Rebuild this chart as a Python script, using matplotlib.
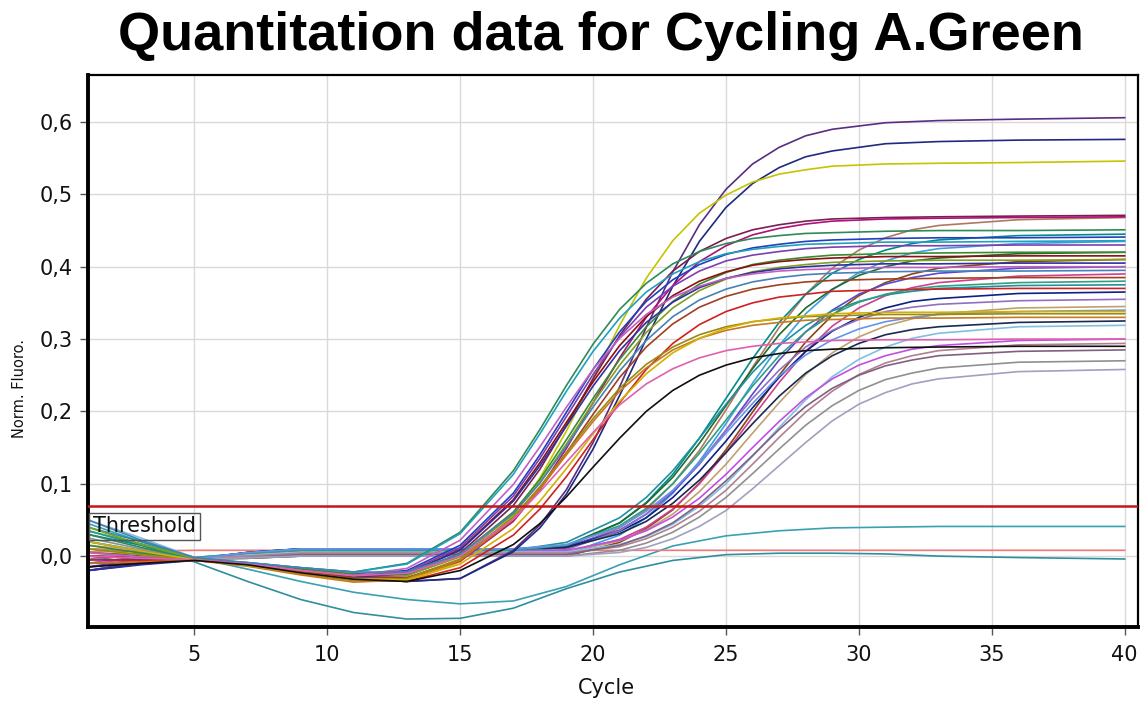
import matplotlib
matplotlib.use("Agg")
import matplotlib.pyplot as plt
from matplotlib.ticker import FuncFormatter, FixedLocator

# Cycle numbers at which each group of runs is listed
EARLY_CYCLES = [1, 3, 5, 7, 9, 11, 13, 15, 17, 18, 19, 20, 21, 22, 23, 24, 25, 26, 27, 28, 29, 31, 33, 36, 40]
LATE_CYCLES = [1, 3, 5, 7, 9, 11, 13, 15, 17, 19, 21, 22, 23, 24, 25, 26, 27, 28, 29, 30, 31, 32, 33, 36, 40]
CONTROL_CYCLES = [1, 3, 5, 7, 9, 11, 13, 15, 17, 19, 21, 23, 25, 27, 29, 31, 33, 36, 40]

# Early-amplifying runs (threshold crossed around cycles 16-19)
EARLY_RUNS = [
    [-0.015, -0.008, -0.005, -0.012, -0.023, -0.032, -0.035, -0.031, 0.008, 0.043, 0.092, 0.157, 0.234, 0.316, 0.393, 0.458, 0.507, 0.542, 0.565, 0.581, 0.590, 0.599, 0.602, 0.604, 0.606],
    [-0.020, -0.011, -0.005, -0.012, -0.023, -0.032, -0.035, -0.031, 0.006, 0.039, 0.086, 0.148, 0.222, 0.300, 0.373, 0.435, 0.482, 0.515, 0.537, 0.552, 0.560, 0.570, 0.573, 0.575, 0.576],
    [0.010, 0.002, -0.005, -0.012, -0.023, -0.032, -0.035, -0.008, 0.056, 0.108, 0.173, 0.246, 0.319, 0.384, 0.436, 0.474, 0.499, 0.517, 0.528, 0.534, 0.539, 0.542, 0.543, 0.544, 0.546],
    [0.000, -0.003, -0.005, -0.011, -0.020, -0.027, -0.027, 0.004, 0.070, 0.120, 0.181, 0.245, 0.305, 0.355, 0.394, 0.421, 0.439, 0.451, 0.458, 0.463, 0.466, 0.468, 0.469, 0.470, 0.471],
    [-0.010, -0.008, -0.005, -0.011, -0.020, -0.027, -0.030, -0.007, 0.048, 0.093, 0.149, 0.212, 0.274, 0.330, 0.374, 0.407, 0.429, 0.444, 0.453, 0.459, 0.463, 0.466, 0.467, 0.468, 0.469],
    [0.030, 0.012, -0.004, -0.009, -0.016, -0.022, -0.010, 0.033, 0.118, 0.175, 0.236, 0.293, 0.341, 0.377, 0.404, 0.421, 0.432, 0.439, 0.443, 0.446, 0.447, 0.449, 0.450, 0.450, 0.451],
    [-0.005, -0.005, -0.005, -0.010, -0.018, -0.025, -0.020, 0.015, 0.087, 0.140, 0.199, 0.258, 0.310, 0.352, 0.382, 0.403, 0.417, 0.426, 0.431, 0.435, 0.437, 0.439, 0.440, 0.440, 0.441],
    [0.020, 0.007, -0.004, -0.009, -0.016, -0.022, -0.011, 0.031, 0.113, 0.169, 0.228, 0.283, 0.329, 0.365, 0.390, 0.407, 0.418, 0.424, 0.428, 0.431, 0.432, 0.434, 0.434, 0.435, 0.436],
    [-0.010, -0.008, -0.005, -0.011, -0.020, -0.027, -0.022, 0.012, 0.083, 0.135, 0.193, 0.251, 0.303, 0.344, 0.373, 0.394, 0.408, 0.416, 0.421, 0.425, 0.427, 0.429, 0.429, 0.430, 0.430],
    [0.015, 0.004, -0.005, -0.010, -0.018, -0.025, -0.025, 0.002, 0.061, 0.106, 0.161, 0.218, 0.272, 0.317, 0.352, 0.376, 0.392, 0.403, 0.409, 0.413, 0.416, 0.418, 0.419, 0.420, 0.420],
    [0.000, -0.003, -0.005, -0.011, -0.021, -0.029, -0.024, 0.009, 0.078, 0.129, 0.185, 0.241, 0.291, 0.331, 0.360, 0.380, 0.393, 0.402, 0.407, 0.410, 0.412, 0.414, 0.414, 0.415, 0.415],
    [0.040, 0.016, -0.003, -0.010, -0.020, -0.027, -0.027, -0.001, 0.058, 0.102, 0.155, 0.212, 0.264, 0.309, 0.343, 0.367, 0.383, 0.393, 0.399, 0.403, 0.406, 0.408, 0.409, 0.409, 0.410],
    [-0.020, -0.012, -0.006, -0.011, -0.021, -0.029, -0.024, 0.008, 0.076, 0.125, 0.180, 0.235, 0.284, 0.323, 0.351, 0.371, 0.384, 0.392, 0.397, 0.400, 0.402, 0.404, 0.404, 0.405, 0.405],
    [0.005, -0.001, -0.005, -0.010, -0.020, -0.027, -0.017, 0.022, 0.099, 0.151, 0.206, 0.258, 0.301, 0.334, 0.358, 0.373, 0.384, 0.390, 0.394, 0.396, 0.397, 0.399, 0.399, 0.400, 0.400],
    [0.050, 0.022, -0.002, -0.009, -0.016, -0.022, -0.022, 0.003, 0.059, 0.101, 0.152, 0.206, 0.256, 0.298, 0.331, 0.354, 0.369, 0.379, 0.385, 0.389, 0.391, 0.393, 0.394, 0.394, 0.395],
    [-0.005, -0.006, -0.006, -0.012, -0.023, -0.032, -0.035, -0.016, 0.029, 0.065, 0.110, 0.161, 0.212, 0.258, 0.294, 0.320, 0.338, 0.350, 0.358, 0.362, 0.366, 0.368, 0.369, 0.370, 0.370],
    [0.000, -0.003, -0.005, -0.012, -0.021, -0.030, -0.030, -0.005, 0.050, 0.092, 0.143, 0.196, 0.247, 0.289, 0.321, 0.344, 0.359, 0.369, 0.375, 0.379, 0.381, 0.383, 0.384, 0.385, 0.385],
    [0.010, 0.002, -0.005, -0.013, -0.025, -0.034, -0.031, -0.004, 0.054, 0.096, 0.143, 0.190, 0.232, 0.265, 0.289, 0.306, 0.317, 0.324, 0.328, 0.331, 0.332, 0.334, 0.334, 0.335, 0.335],
    [-0.010, -0.008, -0.006, -0.014, -0.026, -0.036, -0.033, -0.006, 0.051, 0.093, 0.140, 0.186, 0.228, 0.260, 0.285, 0.301, 0.312, 0.319, 0.323, 0.326, 0.327, 0.329, 0.329, 0.330, 0.330],
    [0.020, 0.007, -0.005, -0.013, -0.023, -0.032, -0.033, -0.011, 0.038, 0.076, 0.121, 0.169, 0.214, 0.252, 0.281, 0.301, 0.315, 0.324, 0.329, 0.332, 0.335, 0.337, 0.337, 0.338, 0.338],
    [0.000, -0.003, -0.005, -0.011, -0.020, -0.027, -0.024, 0.000, 0.051, 0.089, 0.130, 0.171, 0.209, 0.238, 0.259, 0.274, 0.284, 0.290, 0.294, 0.296, 0.298, 0.299, 0.299, 0.300, 0.300],
    [-0.015, -0.010, -0.006, -0.012, -0.023, -0.032, -0.035, -0.020, 0.016, 0.045, 0.082, 0.123, 0.163, 0.200, 0.229, 0.250, 0.264, 0.274, 0.280, 0.284, 0.286, 0.288, 0.289, 0.290, 0.290],
]
EARLY_COLORS = [
    "#5a2d82", "#1f2a80", "#c4c400", "#7a1f4f", "#b0107a", "#2e8b57",
    "#2040c0", "#20a0c0", "#7b3fb0", "#3a8a30", "#8b1010", "#80a020",
    "#3030a0", "#c060c0", "#4682b4", "#d02020", "#a04020", "#9a8a10",
    "#c87820", "#d4b000", "#e060b0", "#101010",
]

# Late-amplifying runs (threshold crossed around cycles 22-25)
LATE_RUNS = [
    [0.000, 0.004, -0.004, 0.004, 0.008, 0.008, 0.008, 0.008, 0.008, 0.011, 0.039, 0.064, 0.100, 0.146, 0.202, 0.261, 0.316, 0.362, 0.398, 0.423, 0.440, 0.451, 0.457, 0.465, 0.468],
    [0.030, 0.015, -0.003, 0.001, 0.005, 0.005, 0.005, 0.005, 0.005, 0.013, 0.046, 0.074, 0.113, 0.163, 0.218, 0.273, 0.323, 0.362, 0.391, 0.410, 0.423, 0.432, 0.437, 0.443, 0.445],
    [0.020, 0.008, -0.004, -0.003, 0.000, 0.000, 0.000, 0.000, 0.000, 0.003, 0.029, 0.053, 0.087, 0.131, 0.183, 0.239, 0.291, 0.335, 0.368, 0.392, 0.408, 0.419, 0.425, 0.432, 0.435],
    [-0.010, -0.002, -0.004, 0.004, 0.008, 0.008, 0.008, 0.008, 0.008, 0.015, 0.046, 0.073, 0.109, 0.156, 0.208, 0.259, 0.306, 0.343, 0.369, 0.388, 0.400, 0.408, 0.412, 0.418, 0.420],
    [0.005, 0.001, -0.004, -0.003, 0.000, 0.000, 0.000, 0.000, 0.000, 0.000, 0.019, 0.038, 0.064, 0.101, 0.147, 0.199, 0.250, 0.296, 0.333, 0.360, 0.378, 0.390, 0.398, 0.407, 0.410],
    [-0.015, -0.004, -0.004, 0.005, 0.010, 0.010, 0.010, 0.010, 0.010, 0.013, 0.036, 0.058, 0.088, 0.127, 0.174, 0.224, 0.271, 0.310, 0.340, 0.362, 0.376, 0.385, 0.391, 0.398, 0.400],
    [0.010, 0.006, -0.003, 0.001, 0.005, 0.005, 0.005, 0.005, 0.005, 0.005, 0.023, 0.040, 0.065, 0.100, 0.143, 0.192, 0.240, 0.283, 0.318, 0.343, 0.360, 0.371, 0.378, 0.387, 0.390],
    [0.040, 0.020, -0.002, 0.004, 0.008, 0.008, 0.008, 0.008, 0.008, 0.019, 0.053, 0.081, 0.118, 0.163, 0.210, 0.254, 0.291, 0.319, 0.339, 0.352, 0.361, 0.366, 0.370, 0.374, 0.375],
    [-0.020, -0.008, -0.005, 0.005, 0.010, 0.010, 0.010, 0.010, 0.010, 0.012, 0.034, 0.053, 0.081, 0.117, 0.159, 0.205, 0.247, 0.283, 0.311, 0.330, 0.343, 0.352, 0.356, 0.363, 0.365],
    [0.000, 0.000, -0.004, -0.001, 0.003, 0.003, 0.003, 0.003, 0.003, 0.009, 0.035, 0.058, 0.090, 0.129, 0.174, 0.218, 0.257, 0.289, 0.312, 0.327, 0.338, 0.344, 0.348, 0.353, 0.355],
    [0.015, 0.008, -0.003, 0.001, 0.005, 0.005, 0.005, 0.005, 0.005, 0.005, 0.021, 0.036, 0.058, 0.089, 0.127, 0.170, 0.212, 0.251, 0.281, 0.303, 0.318, 0.328, 0.335, 0.343, 0.345],
    [-0.005, 0.002, -0.004, 0.005, 0.010, 0.010, 0.010, 0.010, 0.010, 0.012, 0.031, 0.048, 0.073, 0.105, 0.143, 0.183, 0.221, 0.253, 0.277, 0.294, 0.306, 0.313, 0.317, 0.323, 0.325],
    [0.050, 0.025, -0.002, 0.002, 0.006, 0.006, 0.006, 0.006, 0.006, 0.006, 0.016, 0.027, 0.044, 0.069, 0.100, 0.138, 0.178, 0.216, 0.248, 0.272, 0.289, 0.301, 0.308, 0.317, 0.319],
    [-0.010, -0.002, -0.004, 0.004, 0.008, 0.008, 0.008, 0.008, 0.008, 0.008, 0.022, 0.035, 0.054, 0.080, 0.113, 0.150, 0.186, 0.219, 0.245, 0.264, 0.277, 0.286, 0.291, 0.298, 0.300],
    [0.010, 0.007, -0.003, 0.000, 0.004, 0.004, 0.004, 0.004, 0.004, 0.004, 0.013, 0.024, 0.040, 0.062, 0.091, 0.127, 0.164, 0.199, 0.228, 0.251, 0.267, 0.277, 0.284, 0.292, 0.294],
    [-0.020, -0.009, -0.005, -0.002, 0.002, 0.002, 0.002, 0.002, 0.002, 0.002, 0.015, 0.028, 0.046, 0.072, 0.104, 0.139, 0.175, 0.207, 0.232, 0.250, 0.263, 0.271, 0.277, 0.283, 0.285],
    [0.025, 0.010, -0.004, -0.003, 0.000, 0.000, 0.000, 0.000, 0.000, 0.000, 0.008, 0.018, 0.033, 0.054, 0.081, 0.114, 0.148, 0.181, 0.208, 0.229, 0.244, 0.253, 0.260, 0.268, 0.270],
    [0.000, -0.002, -0.004, -0.002, 0.000, 0.000, 0.000, 0.000, 0.000, 0.000, 0.005, 0.012, 0.024, 0.041, 0.063, 0.093, 0.125, 0.157, 0.187, 0.210, 0.226, 0.238, 0.245, 0.255, 0.258],
    [0.035, 0.017, -0.002, 0.004, 0.008, 0.008, 0.008, 0.008, 0.008, 0.015, 0.042, 0.066, 0.100, 0.142, 0.188, 0.235, 0.277, 0.310, 0.334, 0.351, 0.362, 0.369, 0.373, 0.378, 0.380],
    [-0.005, 0.003, -0.004, 0.005, 0.010, 0.010, 0.010, 0.010, 0.010, 0.016, 0.040, 0.062, 0.091, 0.128, 0.170, 0.211, 0.249, 0.278, 0.299, 0.314, 0.324, 0.330, 0.334, 0.338, 0.340],
]
LATE_COLORS = [
    "#b07860", "#008b8b", "#3ca0e0", "#1e6b2e", "#8b4513", "#5a48d0",
    "#d04090", "#2090a0", "#102080", "#9070c0", "#c0a070", "#1a2a50",
    "#80c0e0", "#c050e0", "#b08090", "#806080", "#909090", "#a0a0c0",
    "#30a080", "#6495ed",
]

# Runs that never reach the threshold
CONTROL_RUNS = [
    [0.035, 0.015, -0.008, -0.035, -0.060, -0.078, -0.087, -0.086, -0.072, -0.045, -0.022, -0.006, 0.002, 0.004, 0.004, 0.003, 0.000, -0.002, -0.004],
    [0.045, 0.020, -0.002, -0.018, -0.035, -0.050, -0.060, -0.066, -0.062, -0.042, -0.012, 0.014, 0.028, 0.035, 0.039, 0.040, 0.041, 0.041, 0.041],
    [0.006, 0.007, 0.008, 0.008, 0.008, 0.008, 0.008, 0.008, 0.008, 0.008, 0.008, 0.008, 0.008, 0.008, 0.008, 0.008, 0.008, 0.008, 0.008],
]
CONTROL_COLORS = ["#2f8f9f", "#3aa0b4", "#f07878"]

THRESHOLD = 0.069
X_TICKS = [5, 10, 15, 20, 25, 30, 35, 40]
Y_TICKS = [0.0, 0.1, 0.2, 0.3, 0.4, 0.5, 0.6]

W, H = 1141, 704
fig = plt.figure(figsize=(W / 100, H / 100), dpi=100)
fig.patch.set_facecolor("white")

left, right, top, bottom = 88, 1138, 75, 627
ax = fig.add_axes([left / W, 1 - bottom / H, (right - left) / W, (bottom - top) / H])
ax.set_xlim(1, 40.5)
ax.set_ylim(-0.098, 0.665)

ax.xaxis.set_major_locator(FixedLocator(X_TICKS))
ax.yaxis.set_major_locator(FixedLocator(Y_TICKS))
ax.yaxis.set_major_formatter(FuncFormatter(lambda v, p: f"{v:.1f}".replace(".", ",")))
ax.grid(True, color="#d9d9d9", linewidth=1.0)
ax.set_axisbelow(True)

ax.tick_params(axis="both", direction="out", length=6, width=1, color="#555555",
               labelsize=15, labelcolor="#111111")
ax.tick_params(axis="x", pad=7)
ax.tick_params(axis="y", pad=5)

for name in ("left", "bottom"):
    ax.spines[name].set_linewidth(2.8)
for name in ("top", "right"):
    ax.spines[name].set_linewidth(1.6)
for sp in ax.spines.values():
    sp.set_color("black")

groups = ((CONTROL_CYCLES, CONTROL_RUNS, CONTROL_COLORS),
          (LATE_CYCLES, LATE_RUNS, LATE_COLORS),
          (EARLY_CYCLES, EARLY_RUNS, EARLY_COLORS))
for cycles, runs, colors in groups:
    for run, col in zip(runs, colors):
        ax.plot(cycles, run, color=col, linewidth=1.2, solid_joinstyle="round")

ax.axhline(THRESHOLD, color="#c01818", linewidth=1.8, zorder=5)
ax.text(1.19, 0.041, "Threshold", fontsize=15, color="#111111", ha="left", va="center",
        zorder=6,
        bbox=dict(boxstyle="square,pad=0.18", facecolor="none", edgecolor="#555555",
                  linewidth=1.0))

fig.text(601 / W, 1 - 50 / H, "Quantitation data for Cycling A.Green",
         fontsize=39, fontweight="bold", family="Liberation Sans",
         ha="center", va="baseline", color="black")
fig.text(606 / W, 1 - 688 / H, "Cycle", fontsize=15, ha="center", va="center",
         color="#111111")
fig.text(20 / W, 1 - 388 / H, "Norm. Fluoro.", fontsize=10.5, rotation=90,
         ha="center", va="center", color="#111111")

fig.savefig("out.png", dpi=100, facecolor="white")
